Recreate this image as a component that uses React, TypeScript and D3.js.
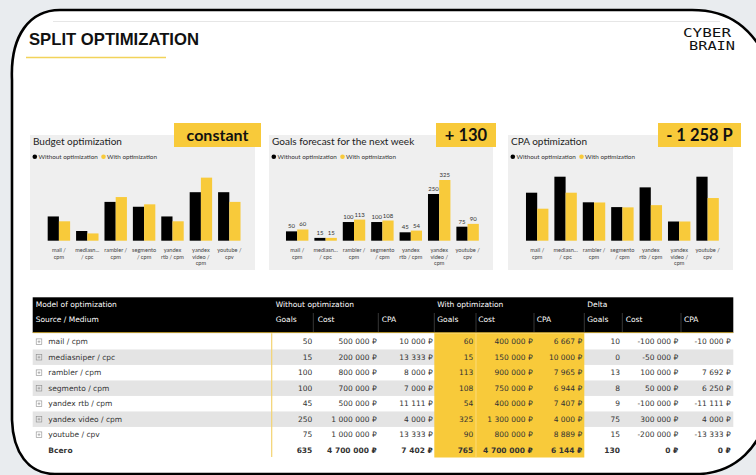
import React from "react";
import * as d3 from "d3";

const categories = ["mail / cpm", "mediasniper / cpc", "rambler / cpm", "segmento / cpm", "yandex rtb / cpm", "yandex video / cpm", "youtube / cpv"];
const axisLabels = [["mail /", "cpm"], ["mediasn...", "/ cpc"], ["rambler /", "cpm"], ["segmento", "/ cpm"], ["yandex", "rtb / cpm"], ["yandex", "video /", "cpm"], ["youtube /", "cpv"]];
const goalsWithout = [50, 15, 100, 100, 45, 250, 75];
const goalsWith = [60, 15, 113, 108, 54, 325, 90];
const costWithout = [500000, 200000, 800000, 700000, 500000, 1000000, 1000000];
const costWith = [400000, 150000, 900000, 750000, 400000, 1300000, 800000];
const cpaWithout = [10000, 13333, 8000, 7000, 11111, 4000, 13333];
const cpaWith = [6667, 10000, 7965, 6944, 7407, 4000, 8889];
const deltaGoals = [10, 0, 13, 8, 9, 75, 15];
const deltaCost = [-100000, -50000, 100000, 50000, -100000, 300000, -200000];
const deltaCpa: (number | null)[] = [-10000, null, 7692, 6250, -11111, 4000, -13333];
const totalRow = { label: "Всего", goalsWithout: 635, costWithout: 4700000, cpaWithout: 7402, goalsWith: 765, costWith: 4700000, cpaWith: 6144, deltaGoals: 130, deltaCost: 0, deltaCpa: 0 };
const seriesNames = ["Without optimization", "With optimization"];
const panelTitles = ["Budget optimization", "Goals forecast for the next week", "CPA optimization"];
const badges = ["constant", "+ 130", "- 1 258 P"];

const YELLOW = "#f8ca3a";
const FONT = "Lato, 'Open Sans', sans-serif";
const TFONT = "'DejaVu Sans', 'Noto Sans', sans-serif";
const TS = 7.5;

const num = (v: number) => d3.format(",")(v).replace(/,/g, " ").replace("−", "-");
const rub = (v: number) => num(v) + " ₽";

function Panel({ px, pw, bx, bw, range, ymax, ytop, a, b, title, badge, labels }: any) {
  const x = d3.scaleBand<string>().domain(categories).range(range).paddingInner(0.21).paddingOuter(0.105);
  const inner = d3.scaleBand<string>().domain(["a", "b"]).range([0, x.bandwidth()]);
  const y = d3.scaleLinear().domain([0, ymax]).range([240.7, ytop]);
  return (
    <g>
      <rect x={px} y={135} width={pw} height={135} fill="#efefef" />
      <rect x={bx} y={123} width={bw} height={24} fill={YELLOW} />
      <text x={bx + bw / 2} y={140.5} textAnchor="middle" fontFamily={FONT} fontWeight="bold" fontSize={badge === "constant" ? 16 : 16.5} fill="#111">{badge}</text>
      <text x={px + 3} y={144.5} fontFamily={FONT} fontSize={10} fill="#222">{title}</text>
      <circle cx={px + 4.8} cy={156.7} r={2.3} fill="#000" />
      <text x={px + 8.5} y={158.8} fontFamily={FONT} fontSize={6.3} fill="#333">{seriesNames[0]}</text>
      <circle cx={px + 73.5} cy={156.7} r={2.3} fill={YELLOW} />
      <text x={px + 77} y={158.8} fontFamily={FONT} fontSize={6.3} fill="#333">{seriesNames[1]}</text>
      {categories.map((c, i) => (
        <g key={c}>
          <rect x={x(c)! + inner("a")!} y={y(a[i])} width={inner.bandwidth()} height={240.7 - y(a[i])} fill="#000" />
          <rect x={x(c)! + inner("b")!} y={y(b[i])} width={inner.bandwidth()} height={240.7 - y(b[i])} fill={YELLOW} />
          {labels && (
            <>
              <text x={x(c)! + inner("a")! + inner.bandwidth() / 2} y={y(a[i]) - 3} textAnchor="middle" fontFamily={FONT} fontSize={6} fill="#333">{a[i]}</text>
              <text x={x(c)! + inner("b")! + inner.bandwidth() / 2} y={y(b[i]) - 3} textAnchor="middle" fontFamily={FONT} fontSize={6} fill="#333">{b[i]}</text>
            </>
          )}
          {axisLabels[i].map((l, j) => (
            <text key={j} x={x(c)! + x.bandwidth() / 2} y={252 + j * 6.6} textAnchor="middle" fontFamily={FONT} fontSize={5.6} fill="#444">{l}</text>
          ))}
        </g>
      ))}
    </g>
  );
}

export default function App() {
  const rowY = d3.scaleLinear().domain([0, 1]).range([341.7, 357.2]);
  const rows = categories.map((c, i) => [goalsWithout[i], costWithout[i], cpaWithout[i], goalsWith[i], costWith[i], cpaWith[i], deltaGoals[i], deltaCost[i], deltaCpa[i]]);
  const totals = [totalRow.goalsWithout, totalRow.costWithout, totalRow.cpaWithout, totalRow.goalsWith, totalRow.costWith, totalRow.cpaWith, totalRow.deltaGoals, totalRow.deltaCost, totalRow.deltaCpa];
  const colRight = [312.3, 376.7, 432.7, 473.3, 532.7, 582.3, 620, 678.3, 730.7];
  const isRub = [false, true, true, false, true, true, false, true, true];
  const fmt = (v: number | null, k: number) => (v === null ? "" : isRub[k] ? rub(v) : num(v));
  const hdrSub = [["Goals", 275.7], ["Cost", 317.7], ["CPA", 381.7], ["Goals", 437.3], ["Cost", 478.3], ["CPA", 536.7], ["Goals", 587.3], ["Cost", 625.7], ["CPA", 684]];
  const seps = [313.3, 378.3, 434.3, 476, 534, 584.3, 622.3, 681];
  return (
    <svg width={756} height={475} style={{ position: "absolute", left: 0, top: 0, display: "block" }}>
      <rect x={0} y={0} width={756} height={475} fill="#e9ecef" />
      <path d="M 60 10 H 692 C 730 10, 752 28, 770 64 V 405 C 762 448, 735 472, 700 474 H 55 C 28 474, 13 452, 12 420 V 80 C 10 35, 30 10, 60 10 Z" fill="#fff" stroke="none" />
      <path d="M 12 420 V 80 C 10 35, 30 10, 60 10 H 692 C 730 10, 752 28, 770 64" fill="none" stroke="#000" strokeWidth={2.6} />
      <path d="M 770 405 C 762 448, 735 472, 700 474 H 55 C 28 474, 13 452, 12 420" fill="none" stroke="#000" strokeWidth={2.6} />
      <line x1={53} x2={720} y1={21.5} y2={21.5} stroke="#e6e6e6" strokeWidth={1} />
      <text x={29} y={44.5} fontFamily="'Liberation Sans', Arial, sans-serif" fontWeight="bold" fontSize={16.6} fill="#111" textLength={170} lengthAdjust="spacingAndGlyphs">SPLIT OPTIMIZATION</text>
      <line x1={26} x2={166} y1={57.5} y2={57.5} stroke="#f2d35a" strokeWidth={1.5} />
      <g transform="translate(683,37) scale(1,1.35)">
        <text x={0} y={0} fontFamily="'DejaVu Sans Mono', monospace" fontSize={8.5} fill="#111" textLength={48} lengthAdjust="spacingAndGlyphs">CYBER</text>
      </g>
      <g transform="translate(689,50) scale(1,1.35)">
        <text x={0} y={0} fontFamily="'DejaVu Sans Mono', monospace" fontSize={8.5} fill="#111" textLength={46} lengthAdjust="spacingAndGlyphs">BRAIN</text>
      </g>

      <Panel px={30} pw={225} bx={174} bw={87} range={[44.7, 243.5]} ymax={1300000} ytop={177.65} a={costWithout} b={costWith} title={panelTitles[0]} badge={badges[0]} labels={false} />
      <Panel px={269} pw={224} bx={436} bw={60} range={[283, 481.8]} ymax={325} ytop={180} a={goalsWithout} b={goalsWith} title={panelTitles[1]} badge={badges[1]} labels={true} />
      <Panel px={508} pw={225} bx={658} bw={83} range={[523, 721.8]} ymax={13333} ytop={176.7} a={cpaWithout} b={cpaWith} title={panelTitles[2]} badge={badges[2]} labels={false} />

      {/* table */}
      <rect x={32.7} y={297.3} width={700.6} height={35.4} fill="#000" />
      <line x1={32.7} x2={733.3} y1={332.6} y2={332.6} stroke="#b8952c" strokeWidth={1} />
      {seps.map((s) => <line key={s} x1={s} x2={s} y1={313} y2={332} stroke="#444" strokeWidth={0.8} />)}
      <text x={35.7} y={307.2} fontFamily={TFONT} fontSize={TS} fill="#fff">Model of optimization</text>
      <text x={275.7} y={307.2} fontFamily={TFONT} fontSize={TS} fill="#fff">Without optimization</text>
      <text x={437.3} y={307.2} fontFamily={TFONT} fontSize={TS} fill="#fff">With optimization</text>
      <text x={587.3} y={307.2} fontFamily={TFONT} fontSize={TS} fill="#fff">Delta</text>
      <text x={35.7} y={322.3} fontFamily={TFONT} fontSize={TS} fill="#fff">Source / Medium</text>
      {hdrSub.map(([t, xx], k) => <text key={k} x={xx as number} y={322.3} fontFamily={TFONT} fontSize={TS} fill="#fff">{t}</text>)}

      {rows.map((r, i) => (i % 2 === 1 ? <rect key={"bg" + i} x={32.7} y={rowY(i) - 7.75} width={700.6} height={15.5} fill="#e4e4e4" /> : null))}
      <rect x={434.3} y={333.2} width={150} height={124.3} fill={YELLOW} />
      <line x1={476} x2={476} y1={333.2} y2={457.5} stroke="#fbe08a" strokeWidth={0.8} />
      <line x1={271.7} x2={271.7} y1={333.2} y2={457} stroke="#f3d370" strokeWidth={1.2} />

      {rows.map((r, i) => (
        <g key={i}>
          <rect x={36.2} y={rowY(i) - 2.8} width={5.6} height={5.6} fill="none" stroke="#8a8a8a" strokeWidth={0.6} />
          <line x1={37.6} x2={40.4} y1={rowY(i)} y2={rowY(i)} stroke="#8a8a8a" strokeWidth={0.6} />
          <line x1={39} x2={39} y1={rowY(i) - 1.4} y2={rowY(i) + 1.4} stroke="#8a8a8a" strokeWidth={0.6} />
          <text x={48.3} y={rowY(i) + 2.7} fontFamily={TFONT} fontSize={TS} fill="#333">{categories[i]}</text>
          {r.map((v, k) => <text key={k} x={colRight[k]} y={rowY(i) + 2.7} textAnchor="end" fontFamily={TFONT} fontSize={TS} fill="#333">{fmt(v as number | null, k)}</text>)}
        </g>
      ))}
      <g>
        <text x={48.3} y={rowY(7) + 2.7} fontFamily={TFONT} fontSize={TS} fontWeight="bold" fill="#333">{totalRow.label}</text>
        {totals.map((v, k) => <text key={k} x={colRight[k]} y={rowY(7) + 2.7} textAnchor="end" fontFamily={TFONT} fontSize={TS} fontWeight="bold" fill="#333">{fmt(v, k)}</text>)}
      </g>
    </svg>
  );
}
